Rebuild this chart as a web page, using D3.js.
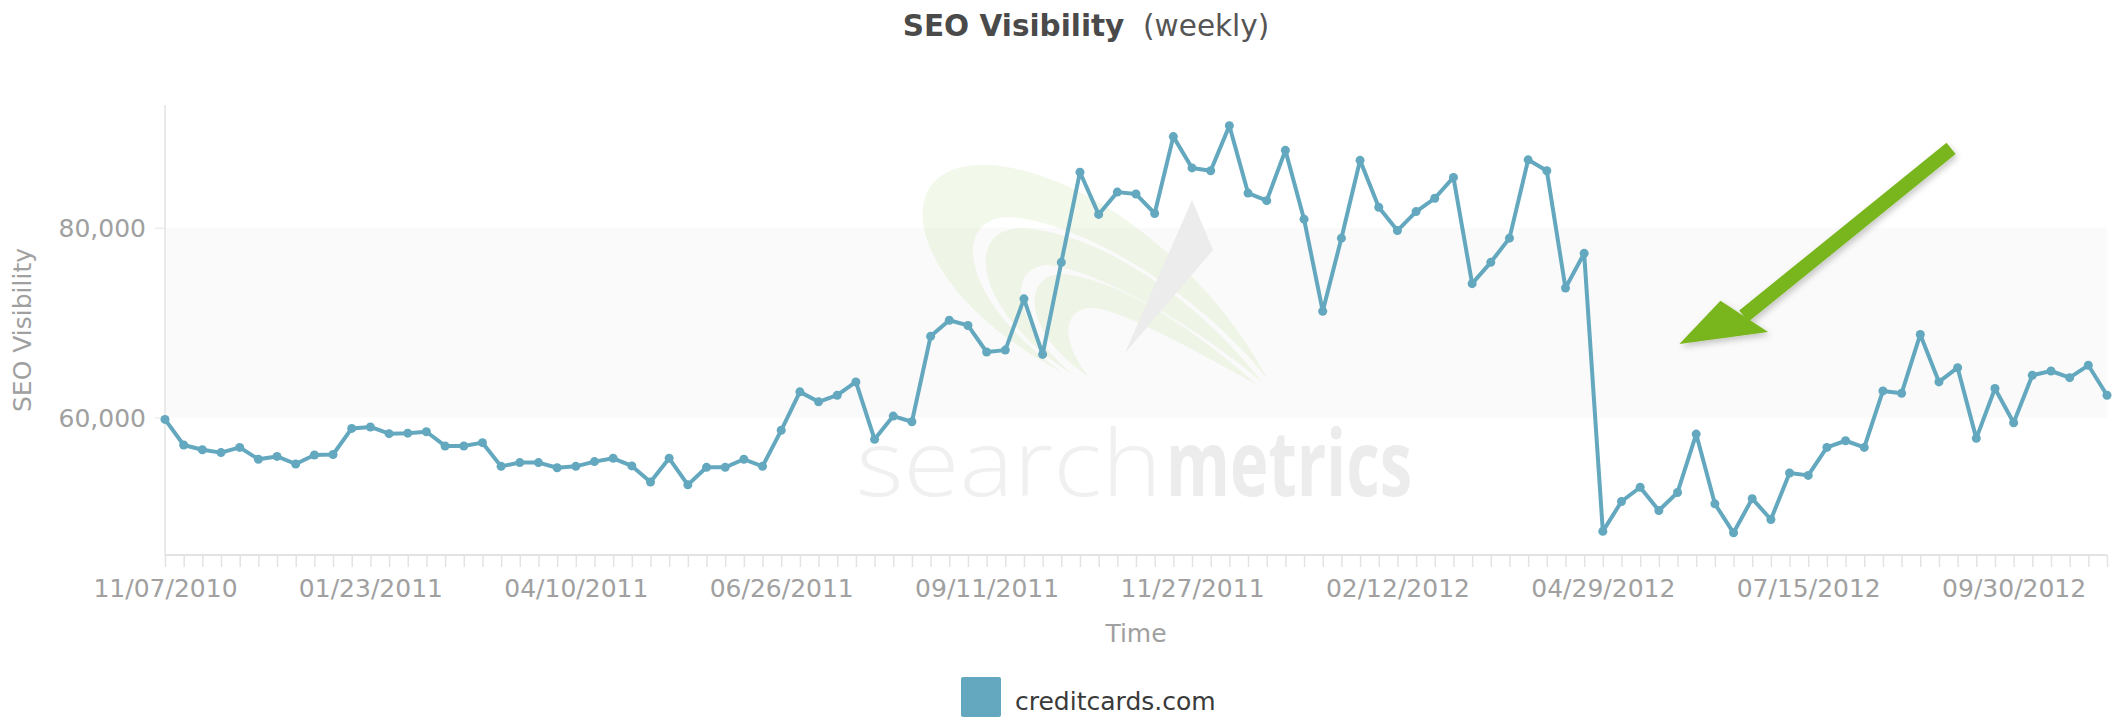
<!DOCTYPE html>
<html>
<head>
<meta charset="utf-8">
<script src="https://cdn.jsdelivr.net/npm/d3@7"></script>
<style>
  html, body { margin: 0; padding: 0; background: #fff; }
  svg { display: block; font-family: "DejaVu Sans", sans-serif; }
</style>
</head>
<body>
<svg id="chart" width="2123" height="718"></svg>
<script>
// --- DATA ---
const seriesName = "creditcards.com";
const firstWeek = Date.UTC(2010, 10, 7); // 11/07/2010, weekly points
const visibility = [
  59800, 57100, 56600, 56300, 56850, 55600, 55900, 55100, 56050, 56100,
  58850, 59000, 58300, 58350, 58500, 57000, 57000, 57350, 54850, 55250,
  55250, 54700, 54850, 55350, 55700, 54900, 53200, 55700, 52900, 54750,
  54750, 55600, 54850, 58650, 62700, 61650, 62350, 63750, 57700, 60150,
  59550, 68550, 70250, 69700, 66900, 67100, 72500, 66650, 76350, 85850,
  81400, 83750, 83550, 81500, 89600, 86300, 86000, 90750, 83650, 82850,
  88150, 80900, 71200, 78900, 87100, 82150, 79700, 81700, 83100, 85300,
  74100, 76350, 78900, 87150, 86000, 73650, 77300, 48000, 51150, 52650,
  50200, 52100, 58250, 50900, 47850, 51450, 49250, 54150, 53900, 56850,
  57550, 56850, 62800, 62550, 68750, 63750, 65250, 57800, 63050, 59450,
  64450, 64900, 64200, 65500, 62350
];
const xTickLabels = ["11/07/2010", "01/23/2011", "04/10/2011", "06/26/2011", "09/11/2011",
                     "11/27/2011", "02/12/2012", "04/29/2012", "07/15/2012", "09/30/2012"];
const yTicks = [60000, 80000];
const yExtent = [45510, 92930];

const WEEK = 7 * 24 * 3600 * 1000;
const points = visibility.map((v, i) => ({ date: new Date(firstWeek + i * WEEK), value: v }));

// --- LAYOUT ---
const svg = d3.select("#chart");
const plot = { left: 165, right: 2107, top: 105, bottom: 555 };
const lineColor = "#63a8be";
const labelColor = "#a0a0a0";
const axisColor = "#e3e3e3";

const x = d3.scaleUtc()
    .domain([points[0].date, points[points.length - 1].date])
    .range([plot.left, plot.right]);
const y = d3.scaleLinear().domain(yExtent).range([plot.bottom, plot.top]);

// alternate band between the two y ticks
svg.append("rect")
    .attr("x", plot.left).attr("width", plot.right - plot.left)
    .attr("y", y(yTicks[1])).attr("height", y(yTicks[0]) - y(yTicks[1]))
    .attr("fill", "#fafafa");

// --- watermark (searchmetrics logo, very faint) ---
const wm = svg.append("g").attr("pointer-events", "none");
[
  "M1062,372 C905,290 880,160 990,165 C1090,172 1210,270 1268,380 C1200,292 1080,222 1010,217 C950,217 960,300 1062,372 Z",
  "M1072,374 C975,312 962,228 1022,228 C1102,233 1200,302 1262,382 C1192,322 1092,268 1047,265 C1007,268 1012,322 1072,374 Z",
  "M1088,376 C1022,332 1022,274 1062,274 C1122,279 1200,334 1256,384 C1190,348 1112,304 1087,308 C1062,313 1062,342 1088,376 Z"
].forEach(d => wm.append("path").attr("d", d).attr("fill", "rgba(190,220,150,0.2)"));
wm.append("path")
    .attr("d", "M1192,200 L1213,250 L1125,353 Z")
    .attr("fill", "#ececec");
wm.append("text").attr("x", 856).attr("y", 496)
    .attr("font-family", "Open Sans, sans-serif").attr("font-weight", 300)
    .attr("font-size", 92).attr("fill", "#f0f0f0")
    .attr("textLength", 306).attr("lengthAdjust", "spacingAndGlyphs")
    .text("search");
wm.append("text").attr("x", 1166).attr("y", 496)
    .attr("font-family", "Open Sans, sans-serif").attr("font-weight", 700)
    .attr("font-size", 92).attr("fill", "#ececec")
    .attr("textLength", 246).attr("lengthAdjust", "spacingAndGlyphs")
    .text("metrics");

// --- AXES ---
const fmtDate = d3.utcFormat("%m/%d/%Y");
const labelDates = xTickLabels.map(s => d3.utcParse("%m/%d/%Y")(s));

const xAxis = svg.append("g").attr("transform", `translate(0,${plot.bottom})`)
    .call(d3.axisBottom(x)
        .tickValues(d3.utcSunday.range(points[0].date, new Date(+points[points.length - 1].date + 1)))
        .tickSize(12)
        .tickFormat(d => labelDates.some(l => +l === +d) ? fmtDate(d) : ""));
xAxis.select(".domain").attr("stroke", axisColor).attr("stroke-width", 2)
    .attr("d", `M${plot.left},0H${plot.right}`);
xAxis.selectAll(".tick line").attr("stroke", axisColor).attr("stroke-width", 1.5);
xAxis.selectAll(".tick text")
    .attr("y", 42).attr("dy", 0)
    .attr("fill", labelColor).attr("font-size", 25)
    .attr("font-family", "DejaVu Sans, sans-serif");

const yAxis = svg.append("g").attr("transform", `translate(${plot.left},0)`)
    .call(d3.axisLeft(y).tickValues(yTicks).tickSize(10).tickFormat(d3.format(",")));
yAxis.select(".domain").attr("stroke", axisColor).attr("stroke-width", 1.5)
    .attr("d", `M0,${plot.top}V${plot.bottom}`);
yAxis.selectAll(".tick line").attr("stroke", axisColor);
yAxis.selectAll(".tick text")
    .attr("x", -19).attr("dy", "0.36em")
    .attr("fill", labelColor).attr("font-size", 25)
    .attr("font-family", "DejaVu Sans, sans-serif");

// axis titles
svg.append("text")
    .attr("transform", `translate(31,${(plot.top + plot.bottom) / 2}) rotate(-90)`)
    .attr("text-anchor", "middle").attr("fill", labelColor).attr("font-size", 25)
    .text("SEO Visibility");
svg.append("text")
    .attr("x", (plot.left + plot.right) / 2).attr("y", 642)
    .attr("text-anchor", "middle").attr("fill", labelColor).attr("font-size", 25)
    .text("Time");

// title
const title = svg.append("text").attr("x", 1086).attr("y", 36)
    .attr("text-anchor", "middle").attr("fill", "#4a4a4a").attr("font-size", 29.5);
title.append("tspan").attr("font-weight", "bold").text("SEO Visibility");
title.append("tspan").attr("fill", "#555").text("\u00a0 (weekly)");

// --- SERIES ---
svg.append("path")
    .datum(points)
    .attr("fill", "none")
    .attr("stroke", lineColor)
    .attr("stroke-width", 4)
    .attr("stroke-linejoin", "round")
    .attr("d", d3.line().x(d => x(d.date)).y(d => y(d.value)));

svg.append("g").selectAll("circle")
    .data(points)
    .join("circle")
    .attr("cx", d => x(d.date))
    .attr("cy", d => y(d.value))
    .attr("r", 4.5)
    .attr("fill", lineColor);

// --- annotation arrow (green) ---
const at = (w, v) => [x(new Date(firstWeek + w * WEEK)), y(v)];
const tail = at(95.65, 88350);
const neck = at(84.55, 70680);
const tip = at(81.1, 67750);
const headA = at(83.3, 72300);
const headB = at(85.85, 69000);
const defs = svg.append("defs");
defs.append("filter").attr("id", "shadow").attr("x", "-20%").attr("y", "-20%")
    .attr("width", "140%").attr("height", "140%")
  .append("feDropShadow").attr("dx", 2).attr("dy", 3).attr("stdDeviation", 3)
    .attr("flood-color", "#000").attr("flood-opacity", 0.22);
const arrow = svg.append("g").attr("filter", "url(#shadow)");
arrow.append("line")
    .attr("x1", tail[0]).attr("y1", tail[1]).attr("x2", neck[0]).attr("y2", neck[1])
    .attr("stroke", "#79b51f").attr("stroke-width", 14.5);
arrow.append("path")
    .attr("d", `M${headA}L${headB}L${tip}Z`)
    .attr("fill", "#79b51f");

// --- LEGEND ---
const legend = svg.append("g").attr("transform", "translate(961,677)");
legend.append("rect").attr("width", 40).attr("height", 40).attr("rx", 2).attr("fill", lineColor);
legend.append("text").attr("x", 54).attr("y", 33)
    .attr("font-size", 25).attr("fill", "#3a3a3a").text(seriesName);
</script>
</body>
</html>
